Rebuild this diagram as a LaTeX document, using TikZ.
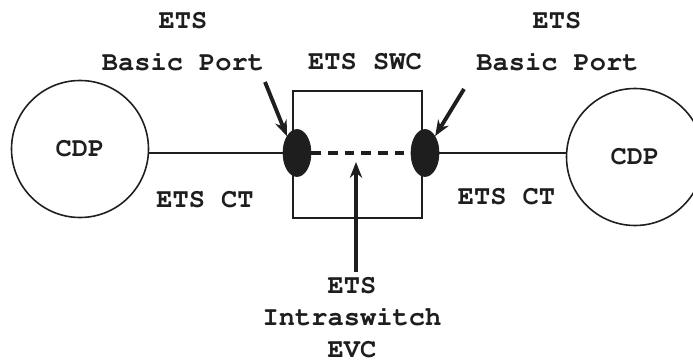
\documentclass[tikz,border=0pt]{standalone}
\usepackage[T1]{fontenc}
\usepackage{courier}
\usetikzlibrary{arrows.meta,positioning,shapes.geometric}
\definecolor{Ink}{HTML}{1E1E1E}

\begin{document}
\begin{tikzpicture}[>=Stealth,
    lbl/.style={font=\fontsize{15.4}{18.2}\selectfont\ttfamily\bfseries,text=Ink,inner sep=0pt},
    cdp/.style={draw=Ink,circle,line width=0.9pt,minimum size=2.74cm,lbl},
    port/.style={draw=Ink,fill=Ink,ellipse,minimum width=0.56cm,minimum height=0.94cm,inner sep=0pt},
    ptr/.style={->,line width=2.2pt,draw=Ink,-{Stealth[length=9pt,width=7pt]}}]
    \useasboundingbox (0,0) rectangle (13.86,7.24);
    % end points
    \node[cdp] (lcdp) at (1.60,4.26) {CDP};
    \node[cdp] (rcdp) at (12.70,4.10) {CDP};
    % switch
    \node[draw=Ink,line width=0.8pt,minimum width=2.58cm,minimum height=2.54cm] (swc) at (7.15,4.15) {};
    \node[port] (lport) at (5.94,4.18) {};
    \node[port] (rport) at (8.50,4.18) {};
    \draw[Ink,line width=0.6pt] (lport.west) -- (lport.west -| lcdp.east);
    \draw[Ink,line width=0.6pt] (rport.east) -- (rport.east -| rcdp.west);
    \draw[Ink,line width=1.8pt,dash pattern=on 5.5pt off 4pt] (lport) -- (rport);
    % labels
    \node[lbl] (lets) at (3.66,6.82) {ETS};
    \node[lbl] (lbp) at (3.66,6.00) {Basic Port};
    \node[lbl] (swcname) at (7.30,6.00) {ETS SWC};
    \node[lbl] (rets) at (11.14,6.82) {ETS};
    \node[lbl] (rbp) at (11.15,6.00) {Basic Port};
    \node[lbl] (lct) at (4.10,3.24) {ETS CT};
    \node[lbl] (rct) at (10.13,3.30) {ETS CT};
    \node[lbl,align=center] (evc) at (7.04,0.88) {ETS\\Intraswitch\\EVC};
    % pointers
    \coordinate (la) at (5.30,5.60);
    \coordinate (ra) at (9.28,5.46);
    \coordinate (evtip) at (7.12,4.00);
    \draw[ptr] (la) -- (lport.north west);
    \draw[ptr] (ra) -- (rport.north east);
    \draw[ptr] ([yshift=3pt]evc.north -| evtip) -- (evtip);
  \end{tikzpicture}
\end{document}
